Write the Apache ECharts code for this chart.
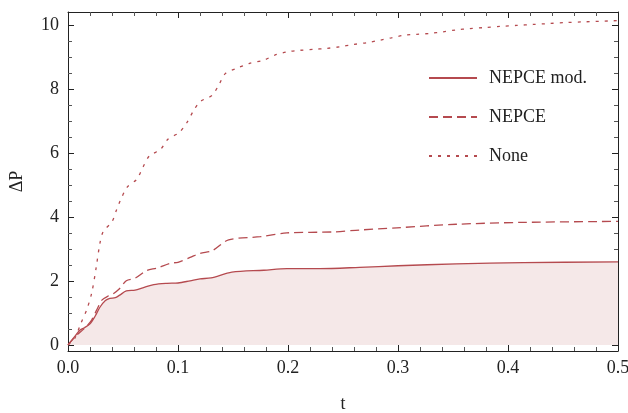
<!DOCTYPE html>
<html>
<head>
<meta charset="utf-8">
<script src="https://cdn.jsdelivr.net/npm/echarts@6/dist/echarts.min.js"></script>
<style>
  html, body { margin: 0; padding: 0; background: #fff; }
  #main { width: 628px; height: 413px; }
</style>
</head>
<body>
<div id="main"></div>
<script>
// NEPCE mod. (solid, filled)
var tMod = [0, 0.006, 0.011, 0.015, 0.02, 0.0245, 0.029, 0.034, 0.038, 0.043, 0.047, 0.053, 0.061, 0.068, 0.078, 0.09, 0.1, 0.111, 0.12, 0.13, 0.149, 0.178, 0.199, 0.229, 0.265, 0.3, 0.353, 0.414, 0.5];
var pMod = [0, 0.26, 0.47, 0.54, 0.66, 0.89, 1.18, 1.39, 1.46, 1.48, 1.56, 1.69, 1.72, 1.79, 1.89, 1.93, 1.94, 2.01, 2.07, 2.1, 2.28, 2.34, 2.39, 2.39, 2.43, 2.48, 2.54, 2.58, 2.6];
// NEPCE (dashed)
var tNep = [0, 0.008, 0.015, 0.0215, 0.026, 0.031, 0.037, 0.041, 0.047, 0.053, 0.061, 0.0715, 0.081, 0.093, 0.1, 0.111, 0.12, 0.131, 0.146, 0.175, 0.199, 0.241, 0.265, 0.299, 0.353, 0.414, 0.5];
var pNep = [0, 0.31, 0.52, 0.78, 1.09, 1.41, 1.54, 1.6, 1.77, 2.01, 2.09, 2.33, 2.41, 2.56, 2.59, 2.74, 2.87, 2.95, 3.29, 3.39, 3.51, 3.54, 3.6, 3.67, 3.78, 3.84, 3.87];
// None (dotted)
var tNone = [0, 0.006, 0.012, 0.017, 0.0215, 0.0255, 0.029, 0.032, 0.04, 0.044, 0.048, 0.054, 0.0625, 0.068, 0.074, 0.084, 0.091, 0.101, 0.108, 0.114, 0.12, 0.131, 0.137, 0.143, 0.153, 0.165, 0.178, 0.188, 0.199, 0.211, 0.223, 0.235, 0.247, 0.259, 0.272, 0.284, 0.294, 0.305, 0.317, 0.329, 0.341, 0.353, 0.365, 0.378, 0.393, 0.408, 0.423, 0.438, 0.453, 0.468, 0.5];
var pNone = [0, 0.2, 0.7, 1.1, 1.62, 2.4, 3.18, 3.55, 3.86, 4.22, 4.56, 4.95, 5.19, 5.56, 5.92, 6.12, 6.45, 6.65, 6.96, 7.33, 7.62, 7.82, 8.14, 8.5, 8.66, 8.82, 8.92, 9.08, 9.18, 9.23, 9.26, 9.29, 9.34, 9.41, 9.47, 9.55, 9.62, 9.7, 9.73, 9.76, 9.81, 9.87, 9.91, 9.94, 9.98, 10.01, 10.04, 10.07, 10.1, 10.12, 10.16];

var yMajor = [0, 2, 4, 6, 8, 10];
var yMinor = [0.5, 1, 1.5, 2.5, 3, 3.5, 4.5, 5, 5.5, 6.5, 7, 7.5, 8.5, 9, 9.5];

function pairs(t, p) {
  var out = [];
  for (var i = 0; i < t.length; i++) out.push([t[i], p[i]]);
  return out;
}

var red = '#b54a4f';
var font = 'Liberation Serif';
var frame = '#222';
var yMin = -0.19, yMax = 10.43;

function xAx(pos, labels) {
  return {
    type: 'value', position: pos, min: 0, max: 0.5, interval: 0.1,
    name: labels ? 't' : '', nameLocation: 'middle', nameGap: 44,
    nameTextStyle: { fontFamily: font, fontSize: 18, color: '#222' },
    axisLine: { show: true, onZero: false, lineStyle: { color: frame, width: 1 } },
    axisTick: { show: true, inside: true, length: 6, lineStyle: { color: frame } },
    minorTick: { show: true, splitNumber: 5, length: 4, lineStyle: { color: '#555' } },
    axisLabel: { show: labels, margin: 8, fontFamily: font, fontSize: 18, color: '#222',
      formatter: function (v) { return v.toFixed(1); } },
    splitLine: { show: false }
  };
}

function yAx(pos, ticks, len, line, labels) {
  return {
    type: 'value', position: pos, min: yMin, max: yMax,
    name: labels ? 'ΔP' : '', nameLocation: 'middle', nameGap: 42,
    nameTextStyle: { fontFamily: font, fontSize: 18, color: '#222' },
    axisLine: { show: line, onZero: false, lineStyle: { color: frame, width: 1 } },
    axisTick: { show: true, inside: true, length: len, customValues: ticks,
      lineStyle: { color: len > 5 ? frame : '#555' } },
    axisLabel: { show: labels, customValues: yMajor, margin: 9, fontFamily: font, fontSize: 18, color: '#222' },
    splitLine: { show: false }
  };
}

var chart = echarts.init(document.getElementById('main'));
chart.setOption({
  animation: false,
  grid: { left: 68, right: 10, top: 12, bottom: 62, containLabel: false, outerBoundsMode: 'none' },
  legend: {
    orient: 'vertical', left: 423, top: 64,
    itemWidth: 48, itemHeight: 18, itemGap: 21,
    itemStyle: { opacity: 0 },
    textStyle: { fontFamily: font, fontSize: 18, color: '#222', padding: [0, 0, 0, 7] },
    data: ['NEPCE mod.', 'NEPCE', 'None']
  },
  xAxis: [xAx('bottom', true), xAx('top', false)],
  yAxis: [
    yAx('left', yMajor, 6, true, true),
    yAx('left', yMinor, 4, false, false),
    yAx('right', yMajor, 6, true, false),
    yAx('right', yMinor, 4, false, false)
  ],
  series: [
    {
      name: 'NEPCE mod.', type: 'line', smooth: 0.3, symbol: 'none',
      data: pairs(tMod, pMod),
      lineStyle: { color: red, width: 1.3 },
      itemStyle: { color: red },
      areaStyle: { color: '#f5e8e8', opacity: 1 },
      z: 2
    },
    {
      name: 'NEPCE', type: 'line', smooth: 0.3, symbol: 'none',
      data: pairs(tNep, pNep),
      lineStyle: { color: red, width: 1.3, type: [9, 5] },
      itemStyle: { color: red },
      z: 3
    },
    {
      name: 'None', type: 'line', smooth: 0.3, symbol: 'none',
      data: pairs(tNone, pNone),
      lineStyle: { color: red, width: 1.3, type: [3, 6] },
      itemStyle: { color: red },
      z: 3
    }
  ]
});
</script>
</body>
</html>
